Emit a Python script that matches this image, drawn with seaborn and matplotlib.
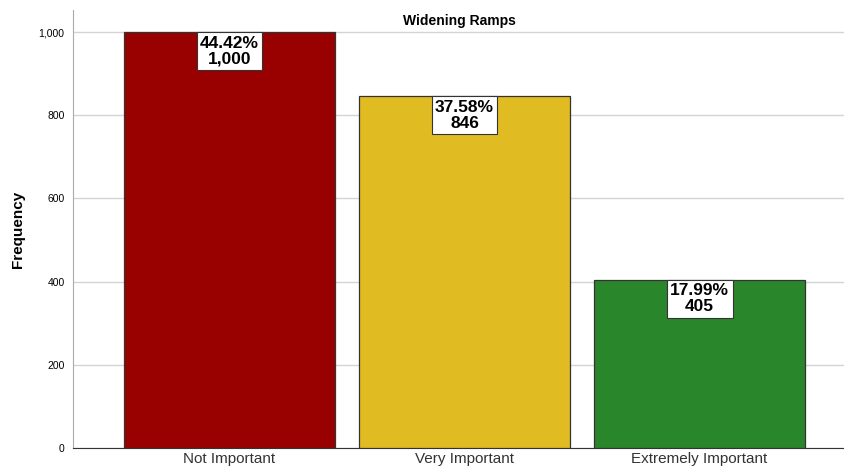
import pandas as pd
import seaborn as sns
import matplotlib.pyplot as plt

categories = ["Not Important", "Very Important", "Extremely Important"]
counts = [1000, 846, 405]
percents = [44.42, 37.58, 17.99]
colors = ["#990000", "#E0BB22", "#2A862A"]

df = pd.DataFrame({"answer": categories, "count": counts})

sns.set_style("white")
plt.rcParams['font.family'] = ['Liberation Sans', 'DejaVu Sans']
plt.rcParams['text.color'] = 'black'

fig = plt.figure(figsize=(8.45, 4.75), dpi=100)
ax = fig.add_axes([73 / 845, 1 - 448 / 475, 1 - 73 / 845, 438 / 475])

sns.barplot(data=df, x="answer", y="count", hue="answer", palette=colors,
            width=0.898, edgecolor="#333333", linewidth=0.9, legend=False,
            saturation=1, ax=ax, zorder=3)

ax.set_xlim(-0.666, 2.619)
ax.set_ylim(0, 1053)
ax.set_yticks([0, 200, 400, 600, 800, 1000])
ax.set_yticklabels(["0", "200", "400", "600", "800", "1,000"], fontsize=7.5)
ax.yaxis.grid(True, color="#d4d4d4", linewidth=1, zorder=0)
ax.tick_params(axis="y", length=4, color="#aaaaaa", pad=2, labelcolor="black")
ax.tick_params(axis="x", length=0, labelsize=11, labelcolor="#333333", pad=3)

for side in ["top", "right"]:
    ax.spines[side].set_visible(False)
ax.spines["left"].set_color("#aaaaaa")
ax.spines["bottom"].set_color("#333333")

ax.set_xlabel("")
ax.set_ylabel("Frequency", fontsize=11, fontweight="bold", labelpad=10, color="black")
ax.set_title("Widening Ramps", fontsize=10, fontweight="bold", y=0.965, pad=0,
             color="black")

for i, (c, p) in enumerate(zip(counts, percents)):
    ax.text(i, c - 9, f"{p:.2f}%\n{c:,}", ha="center", va="top", fontsize=12.5,
            fontweight="bold", linespacing=1.08, zorder=5, color="black",
            bbox=dict(boxstyle="square,pad=0.2", fc="white", ec="#333333", lw=0.8))

fig.savefig("out.png", dpi=100)
